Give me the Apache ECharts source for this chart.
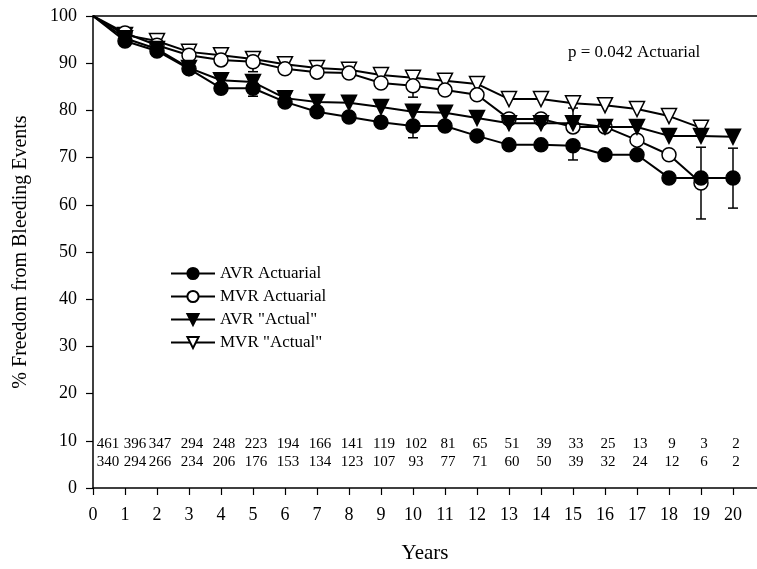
<!DOCTYPE html>
<html>
<head>
<meta charset="utf-8">
<script src="https://cdn.jsdelivr.net/npm/echarts@6/dist/echarts.min.js"></script>
<style>
  html, body { margin: 0; padding: 0; background: #fff; }
  #chart { width: 757px; height: 569px; }
</style>
</head>
<body>
<div id="chart"></div>
<script>
// years of follow-up
const years = [0, 1, 2, 3, 4, 5, 6, 7, 8, 9, 10, 11, 12, 13, 14, 15, 16, 17, 18, 19, 20];

// freedom from bleeding events (%)
const avrActuarial = [100, 94.7, 92.6, 88.8, 84.7, 84.7, 81.8, 79.7, 78.6, 77.5, 76.7, 76.7, 74.6, 72.7, 72.7, 72.5, 70.6, 70.6, 65.7, 65.7, 65.7];
const mvrActuarial = [100, 96.4, 93.8, 91.7, 90.7, 90.3, 88.8, 88.1, 87.9, 85.8, 85.2, 84.3, 83.3, 78.2, 78.2, 76.5, 76.5, 73.7, 70.6, 64.6];
const avrActual = [100, 95.3, 93, 89, 86.4, 86, 82.6, 81.8, 81.6, 80.7, 79.7, 79.5, 78.4, 77.3, 77.3, 77.3, 76.5, 76.5, 74.6, 74.6, 74.4];
const mvrActual = [100, 96, 94.7, 92.4, 91.7, 90.9, 89.8, 89, 88.6, 87.5, 86.9, 86.3, 85.6, 82.4, 82.4, 81.5, 81.1, 80.3, 78.8, 76.3];

// error bars: [year, low, high]
const avrErr = [[5, 83, 84.7], [10, 74.2, 76.7], [15, 69.5, 72.5], [19, 65.7, 72.2], [20, 59.3, 72]];
const mvrErr = [[5, 88.2, 90.3], [10, 82.8, 85.2], [15, 76.5, 80.5], [19, 57, 64.6]];

// patients at risk
const riskAvr = [461, 396, 347, 294, 248, 223, 194, 166, 141, 119, 102, 81, 65, 51, 39, 33, 25, 13, 9, 3, 2];
const riskMvr = [340, 294, 266, 234, 206, 176, 153, 134, 123, 107, 93, 77, 71, 60, 50, 39, 32, 24, 12, 6, 2];

const yTicks = [0, 10, 20, 30, 40, 50, 60, 70, 80, 90, 100];

const FONT = 'Liberation Serif';
const chart = echarts.init(document.getElementById('chart'));

// no marker on the starting point (year 0)
const pairs = (vals) => vals.map((v, i) => (i === 0 ? { value: [years[i], v], symbol: 'none' } : [years[i], v]));

const lineSeries = (name, vals, symbol, filled, z) => ({
  name: name,
  type: 'line',
  data: pairs(vals),
  symbol: symbol,
  symbolSize: symbol === 'circle' ? 14 : 15,
  symbolRotate: symbol === 'triangle' ? 180 : 0,
  showAllSymbol: true,
  z: z,
  lineStyle: { color: '#000', width: 2 },
  itemStyle: { color: filled ? '#000' : '#fff', borderColor: '#000', borderWidth: 1.5 },
  emphasis: { disabled: true },
  animation: false
});

const errSeries = (data) => ({
  type: 'custom',
  data: data,
  z: 1,
  silent: true,
  animation: false,
  renderItem: (params, api) => {
    const x = api.value(0);
    const lo = api.coord([x, api.value(1)]);
    const hi = api.coord([x, api.value(2)]);
    const style = { stroke: '#000', lineWidth: 1.5 };
    return {
      type: 'group',
      children: [
        { type: 'line', shape: { x1: lo[0], y1: lo[1], x2: hi[0], y2: hi[1] }, style: style },
        { type: 'line', shape: { x1: lo[0] - 5, y1: lo[1], x2: lo[0] + 5, y2: lo[1] }, style: style },
        { type: 'line', shape: { x1: hi[0] - 5, y1: hi[1], x2: hi[0] + 5, y2: hi[1] }, style: style }
      ]
    };
  }
});

const riskSeries = (vals, level) => ({
  type: 'custom',
  data: vals.map((v, i) => [years[i], level, v]),
  silent: true,
  animation: false,
  renderItem: (params, api) => {
    const yr = api.value(0);
    const p = api.coord([yr, api.value(1)]);
    const dx = yr === 0 ? 15 : yr === 1 ? 10 : 3;
    return {
      type: 'text',
      x: p[0] + dx,
      y: p[1],
      style: {
        text: String(api.value(2)),
        fontFamily: FONT,
        fontSize: 15,
        fill: '#000',
        align: 'center',
        verticalAlign: 'middle'
      }
    };
  }
});

const option = {
  backgroundColor: '#fff',
  animation: false,
  grid: { left: 93, right: 0, top: 16, bottom: 81 },
  legend: {
    orient: 'vertical',
    left: 165,
    top: 260,
    itemWidth: 44,
    itemHeight: 14,
    itemGap: 6,
    data: ['AVR Actuarial', 'MVR Actuarial', 'AVR "Actual"', 'MVR "Actual"'],
    textStyle: { fontFamily: FONT, fontSize: 17, color: '#000' },
    selectedMode: false
  },
  graphic: [{
    type: 'text',
    left: 568,
    top: 44,
    style: { text: 'p = 0.042 Actuarial', fontFamily: FONT, fontSize: 17, fill: '#000' }
  }],
  xAxis: [{
    type: 'value',
    min: 0,
    max: 20.75,
    name: 'Years',
    nameLocation: 'middle',
    nameGap: 55,
    nameTextStyle: { fontFamily: FONT, fontSize: 21, color: '#000', verticalAlign: 'top' },
    axisLine: { lineStyle: { color: '#000', width: 1.5 } },
    axisTick: { show: true, length: 7, customValues: years, lineStyle: { color: '#000', width: 1.2 } },
    axisLabel: { customValues: years, margin: 18, fontFamily: FONT, fontSize: 18, color: '#000' },
    splitLine: { show: false }
  }, {
    type: 'value',
    position: 'top',
    min: 0,
    max: 20.75,
    axisLine: { show: true, lineStyle: { color: '#000', width: 1.5 } },
    axisTick: { show: false },
    axisLabel: { show: false },
    splitLine: { show: false }
  }],
  yAxis: {
    type: 'value',
    min: 0,
    max: 100,
    interval: 10,
    name: '% Freedom from Bleeding Events',
    nameLocation: 'middle',
    nameGap: 62,
    nameTextStyle: { fontFamily: FONT, fontSize: 20, color: '#000' },
    axisLine: { show: true, lineStyle: { color: '#000', width: 1.5 } },
    axisTick: { show: true, length: 7, customValues: yTicks, lineStyle: { color: '#000', width: 1.2 } },
    axisLabel: { customValues: yTicks, margin: 16, fontFamily: FONT, fontSize: 18, color: '#000' },
    splitLine: { show: false }
  },
  series: [
    errSeries(avrErr),
    errSeries(mvrErr),
    lineSeries('MVR "Actual"', mvrActual, 'triangle', false, 2),
    lineSeries('MVR Actuarial', mvrActuarial, 'circle', false, 3),
    lineSeries('AVR Actuarial', avrActuarial, 'circle', true, 4),
    lineSeries('AVR "Actual"', avrActual, 'triangle', true, 5),
    riskSeries(riskAvr, 9.3),
    riskSeries(riskMvr, 5.4)
  ]
};

chart.setOption(option);
</script>
</body>
</html>
